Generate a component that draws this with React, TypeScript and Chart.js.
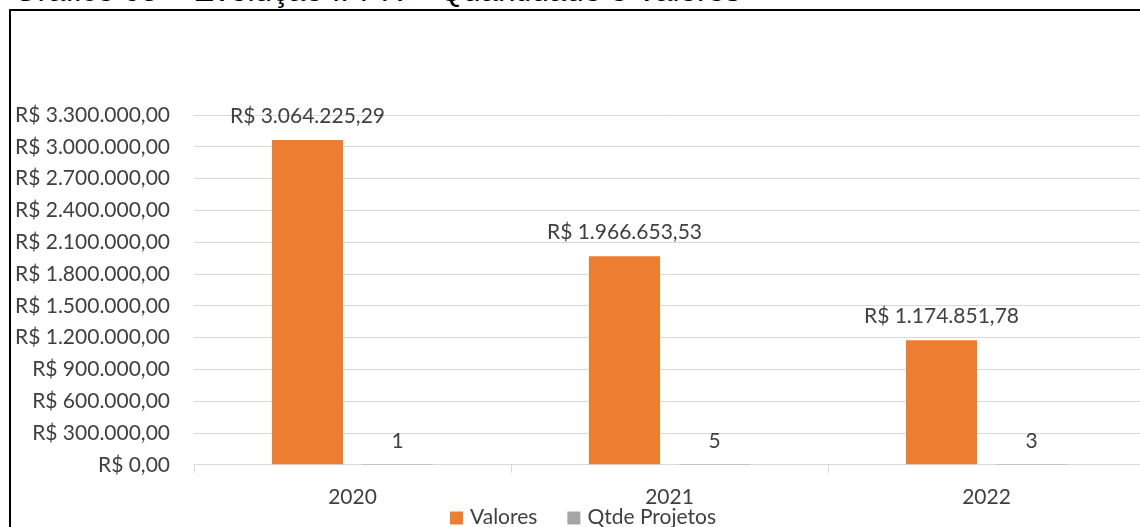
import React, { useEffect, useRef } from "react";
import { Chart, registerables } from "chart.js";

Chart.register(...registerables);

const categories = ["2020", "2021", "2022"];
const valores = [3064225.29, 1966653.53, 1174851.78];
const qtdeProjetos = [1, 5, 3];
const seriesNames = ["Valores", "Qtde Projetos"];
const seriesColors = ["#ED7D31", "#A5A5A5"];
const yMax = 3300000;
const yStep = 300000;
const titleText = "Gráfico 05 – Evolução IFPR – Quantidade e Valores";

const TEXT = "#404040";
const FONT = "Lato, 'Noto Sans', sans-serif";
const FS = 21;

function brl(v: number): string {
  const fixed = Math.abs(v).toFixed(2);
  const [intPart, dec] = fixed.split(".");
  const withDots = intPart.replace(/\B(?=(\d{3})+(?!\d))/g, ".");
  return "R$ " + withDots + "," + dec;
}

const labelPlugin = {
  id: "barLabels",
  afterDatasetsDraw(chart: any) {
    const ctx = chart.ctx;
    ctx.save();
    ctx.font = FS + "px " + FONT;
    ctx.fillStyle = TEXT;
    ctx.textAlign = "center";
    ctx.textBaseline = "middle";
    chart.data.datasets.forEach((ds: any, di: number) => {
      const meta = chart.getDatasetMeta(di);
      meta.data.forEach((el: any, i: number) => {
        const v = ds.data[i];
        const txt = di === 0 ? brl(v) : String(v);
        ctx.fillText(txt, el.x, el.y - 24);
      });
    });
    ctx.restore();
  },
};

const legendPlugin = {
  id: "customLegend",
  afterDraw(chart: any) {
    const ctx = chart.ctx;
    ctx.save();
    ctx.font = FS + "px " + FONT;
    ctx.textBaseline = "middle";
    ctx.textAlign = "left";
    const box = 13;
    const gapText = 7;
    const gapItem = 30;
    const items = chart.data.datasets.map((ds: any, i: number) => ({
      text: ds.label,
      color: seriesColors[i],
      w: ctx.measureText(ds.label).width,
    }));
    let total = 0;
    items.forEach((it: any, i: number) => {
      total += box + gapText + it.w + (i < items.length - 1 ? gapItem : 0);
    });
    let x = chart.width / 2 - total / 2 + 1;
    const cy = chart.height - 10;
    items.forEach((it: any) => {
      ctx.fillStyle = it.color;
      ctx.fillRect(x, cy - box / 2 + 1, box, box);
      x += box + gapText;
      ctx.fillStyle = TEXT;
      ctx.fillText(it.text, x, cy);
      x += it.w + gapItem;
    });
    ctx.restore();
  },
};

export default function App() {
  const ref = useRef<HTMLCanvasElement>(null);
  useEffect(() => {
    if (!ref.current) return;
    const chart = new Chart(ref.current, {
      type: "bar",
      data: {
        labels: categories,
        datasets: [
          {
            label: seriesNames[0],
            data: valores,
            backgroundColor: seriesColors[0],
            categoryPercentage: 0.568,
            barPercentage: 0.789,
          },
          {
            label: seriesNames[1],
            data: qtdeProjetos,
            backgroundColor: seriesColors[1],
            categoryPercentage: 0.568,
            barPercentage: 0.789,
            inflateAmount: 0,
          },
        ],
      },
      options: {
        animation: false,
        responsive: false,
        maintainAspectRatio: false,
        layout: { padding: { top: 105, right: 7, left: 0, bottom: 5 } },
        plugins: {
          legend: { display: false },
          tooltip: { enabled: false },
          title: { display: false },
        },
        scales: {
          x: {
            grid: {
              display: true,
              drawOnChartArea: false,
              drawTicks: true,
              tickLength: 8,
              color: "#d9d9d9",
              offset: true,
            },
            border: { color: "#d9d9d9" },
            ticks: { color: TEXT, font: { size: FS, family: FONT }, padding: 12 },
          },
          y: {
            min: 0,
            max: yMax,
            grid: { color: "#d9d9d9", drawTicks: false },
            border: { display: false },
            afterFit: (s: any) => {
              s.width = 182;
            },
            ticks: {
              stepSize: yStep,
              color: TEXT,
              font: { size: FS, family: FONT },
              padding: 24,
              callback: (v: any) => brl(Number(v)),
            },
          },
        },
      },
      plugins: [labelPlugin, legendPlugin],
    });
    return () => chart.destroy();
  }, []);

  return (
    <div
      style={{
        position: "fixed",
        left: 0,
        top: 0,
        width: 1140,
        height: 527,
        overflow: "hidden",
        background: "#fff",
      }}
    >
      <div
        style={{
          position: "absolute",
          left: 13,
          top: -25,
          fontFamily: "'Liberation Sans', Arial, sans-serif",
          fontSize: 31.5,
          lineHeight: 1,
          color: "#000",
          whiteSpace: "nowrap",
        }}
      >
        {titleText}
      </div>
      <div
        style={{
          position: "absolute",
          left: 9,
          top: 9,
          width: 1160,
          height: 560,
          borderLeft: "2px solid #000",
          borderTop: "2px solid #000",
        }}
      />
      <canvas
        ref={ref}
        width={1140}
        height={517}
        style={{ position: "absolute", left: 12, top: 10, width: 1140, height: 517 }}
      />
    </div>
  );
}
